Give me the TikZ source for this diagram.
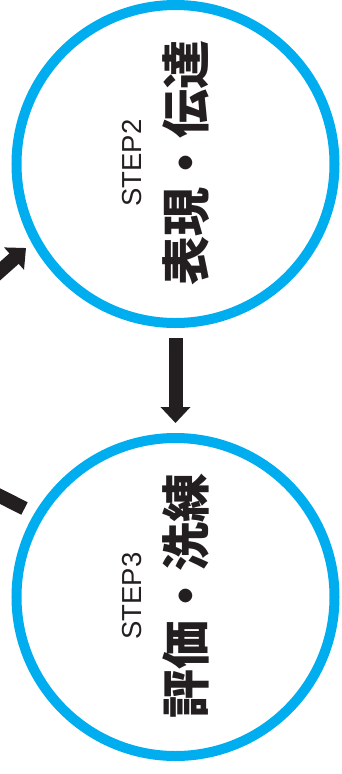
\documentclass[tikz,border=0pt]{standalone}
\usepackage{fontspec}
\setmainfont{Liberation Sans}
\newfontfamily\cjk{Noto Sans CJK JP}
\usetikzlibrary{arrows.meta}
\definecolor{ringblue}{HTML}{00AEEF}
\definecolor{ink}{HTML}{231F20}
\begin{document}
\begin{tikzpicture}[x=1pt,y=-1pt,
  ring/.style={circle,draw=ringblue,line width=10pt,minimum size=318pt,inner sep=0pt},
  steplabel/.style={rotate=90,inner sep=0pt,font=\fontsize{27.5}{30}\selectfont,text=ink},
  titlelabel/.style={rotate=90,inner sep=0pt,font=\cjk\bfseries\fontsize{49}{52}\selectfont,text=ink},
  arr/.style={draw=ink,line width=14pt,-{Triangle[length=16pt,width=29pt]}},
  tailline/.style={draw=ink,line width=14pt,line cap=butt}]
\useasboundingbox (0,0) rectangle (341,774);
\clip (0,0) rectangle (341,774);
\node[ring] (s2) at (175.5,164) {};
\node[ring] (s3) at (175.5,597) {};
\node[steplabel] (s2step) at (132,163) {STEP2};
\node[titlelabel] (s2title) at (186,163) {表現・伝達};
\node[steplabel] (s3step) at (132,596) {STEP3};
\node[titlelabel] (s3title) at (186,596) {評価・洗練};
\draw[arr] ([yshift=-10pt]s2.south) -- ([yshift=10pt]s3.north);
\coordinate (in2start) at (-19,288);
\coordinate (in2end) at (26,248);
\draw[arr] (in2start) -- (in2end);
\coordinate (out3start) at (24.5,508.5);
\coordinate (out3end) at (-20,486);
\draw[tailline] (out3start) -- (out3end);
\end{tikzpicture}
\end{document}
